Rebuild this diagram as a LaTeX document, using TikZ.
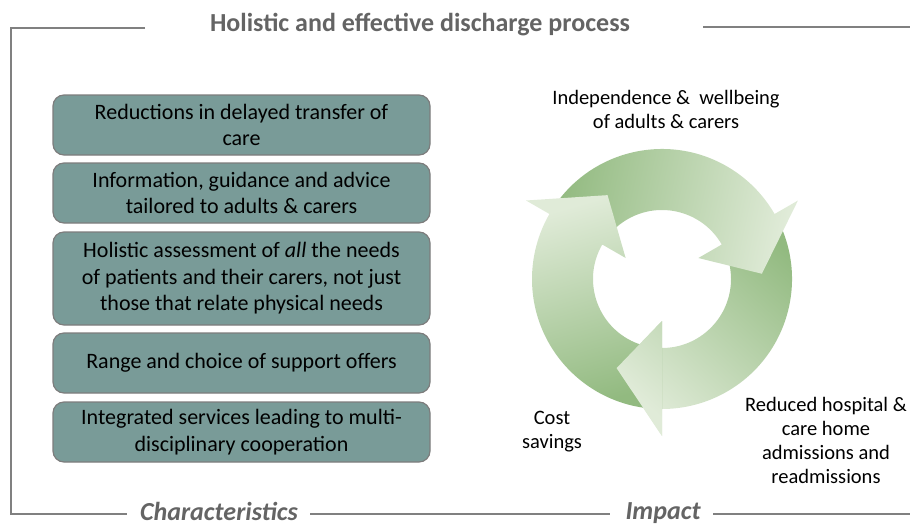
\documentclass[tikz,border=0pt]{standalone}
\usepackage{fontspec}
\setmainfont{Carlito}
\usepackage{tikz}
\usepackage{xcolor}
\definecolor{framegray}{RGB}{128, 128, 128}
\definecolor{headgray}{RGB}{100, 100, 100}
\definecolor{boxteal}{RGB}{121, 155, 152}
\definecolor{boxedge}{RGB}{125, 125, 125}
\definecolor{ringdark}{RGB}{146, 186, 128}
\definecolor{ringlight}{RGB}{224, 235, 216}
% one ring arrow: body from #1 to #2, head at #2
\newcommand{\ringarrow}[2]{(#1:130) arc[start angle=#1, end angle=#2, radius=130] -- (#2:157) -- ({#2+27}:100) -- (#2:42) -- (#2:69) arc[start angle=#2, end angle=#1, radius=69] -- cycle}
\newcommand{\ringhead}[1]{(#1:157) -- ({#1+27}:100) -- (#1:42) -- cycle}

\begin{document}
\begin{tikzpicture}[x=1pt, y=-1pt,
  frame/.style={framegray, line width=2.5pt},
  charbox/.style={draw=boxedge, line width=1.2pt, fill=boxteal, rounded corners=11pt,
    minimum width=377pt, inner sep=0pt, align=center, font=\fontsize{22}{26.5}\selectfont},
  ringlabel/.style={align=center, font=\fontsize{20.5}{24}\selectfont},
  sidelabel/.style={headgray, font=\fontsize{26}{30}\selectfont\bfseries\itshape},
  ringshade/.style={top color=ringlight, bottom color=ringdark}]

  \useasboundingbox (0,0) rectangle (910,527);

  % frame and headings
  \node[headgray, font=\fontsize{26}{30}\selectfont\bfseries] (title) at (420,25) {Holistic and effective discharge process};
  \draw[frame] (145,28) -- (11,28) -- (11,514) -- (127,514);
  \draw[frame] (703,27) -- (910,27);
  \node[sidelabel] (traits) at (219,511) {Characteristics};
  \node[sidelabel] (impact) at (663,513) {Impact};
  \draw[frame] (310,514) -- (610,514);
  \draw[frame] (713,514) -- (910,514);

  % characteristics
  \node[charbox, minimum height=60pt] (transfer) at (241.5,125) {Reductions in delayed transfer of\\care};
  \node[charbox, minimum height=60pt] (advice) at (241.5,193) {Information, guidance and advice\\tailored to adults \& carers};
  \node[charbox, minimum height=93pt] (assess) at (241.5,278.5) {Holistic assessment of \emph{all} the needs\\of patients and their carers, not just\\those that relate physical needs};
  \node[charbox, minimum height=60pt] (choice) at (241.5,363) {Range and choice of support offers};
  \node[charbox, minimum height=60pt] (services) at (241.5,432) {Integrated services leading to multi-\\disciplinary cooperation};

  % impact cycle
  \begin{scope}[shift={(662,279)}]
    \shade[ringshade, shading angle=138] \ringarrow{330}{450};
    \shade[ringshade, shading angle=-102] \ringarrow{210}{330};
    \shade[ringshade, shading angle=16] \ringarrow{90}{210};
    \begin{scope}
      \clip \ringhead{450};
      \shade[ringshade, shading angle=138] \ringarrow{330}{450};
    \end{scope}
  \end{scope}

  \node[ringlabel] (wellbeing) at (666,109) {Independence \&\ \ wellbeing\\of adults \& carers};
  \node[ringlabel] (savings) at (552,432) {Cost\\savings};
  \node[ringlabel] (admissions) at (826,440) {Reduced hospital \&\\care home\\admissions and\\readmissions};

\end{tikzpicture}
\end{document}
